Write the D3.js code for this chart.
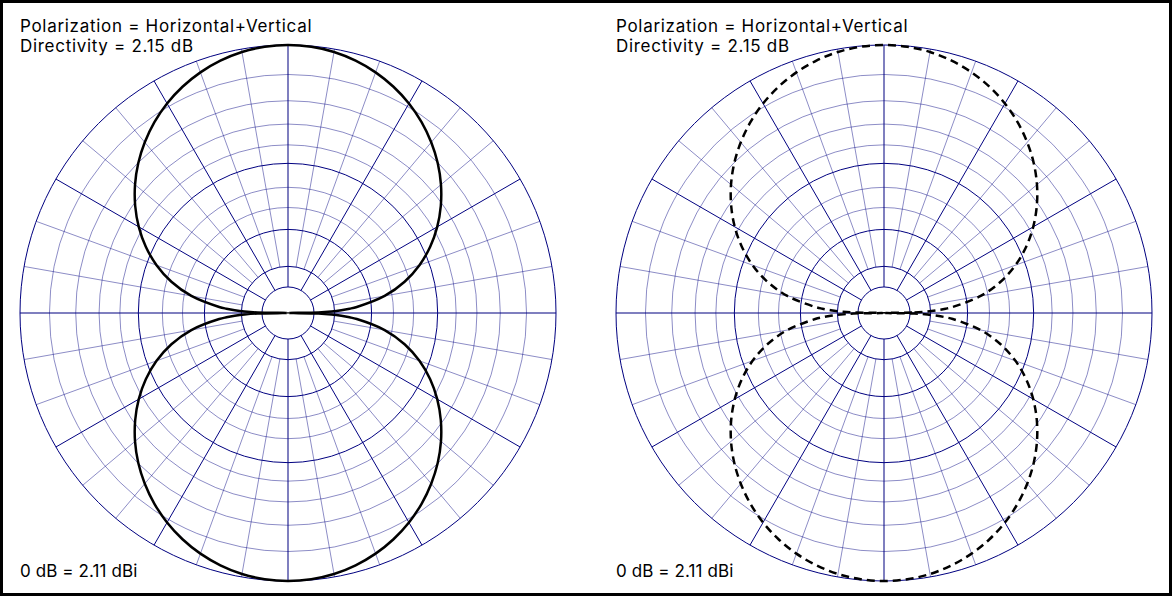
<!DOCTYPE html>
<html>
<head>
<meta charset="utf-8">
<script src="https://d3js.org/d3.v7.min.js"></script>
<style>
body { margin: 0; background: #fff; }
text { font-family: Inter, "Liberation Sans", sans-serif; font-size: 17px; fill: #000; }
</style>
</head>
<body>
<div id="antenna"></div>
<script>
const w = 1172;
const h = 596;
const R = 268;

// two panels, same pattern : solid on the left, dashed on the right
const panels = [
	{ cx: 288, cy: 313, dash: null },
	{ cx: 884, cy: 313, dash: "8,5" }
];

// far field pattern : angle in degrees (0 = right, counter clockwise), gain in dB
const angles = [0, 1, 2, 3, 4, 5, 10, 15, 20, 25, 30, 35, 40, 45, 50, 55, 60, 65, 70, 75, 80, 85,
	90, 95, 100, 105, 110, 115, 120, 125, 130, 135, 140, 145, 150, 155, 160, 165, 170, 175, 176, 177, 178, 179,
	180, 181, 182, 183, 184, 185, 190, 195, 200, 205, 210, 215, 220, 225, 230, 235, 240, 245, 250, 255, 260, 265,
	270, 275, 280, 285, 290, 295, 300, 305, 310, 315, 320, 325, 330, 335, 340, 345, 350, 355, 356, 357, 358, 359];
const gainDb = [-99, -37.3, -31.2, -27.7, -25.2, -23.27, -17.24, -13.69, -11.16, -9.19, -7.58, -6.22, -5.05, -4.04, -3.17, -2.41, -1.76, -1.22, -0.78, -0.44, -0.19, -0.05,
	0, -0.05, -0.19, -0.44, -0.78, -1.22, -1.76, -2.41, -3.17, -4.04, -5.05, -6.22, -7.58, -9.19, -11.16, -13.69, -17.24, -23.27, -25.2, -27.7, -31.2, -37.3,
	-99, -37.3, -31.2, -27.7, -25.2, -23.27, -17.24, -13.69, -11.16, -9.19, -7.58, -6.22, -5.05, -4.04, -3.17, -2.41, -1.76, -1.22, -0.78, -0.44, -0.19, -0.05,
	0, -0.05, -0.19, -0.44, -0.78, -1.22, -1.76, -2.41, -3.17, -4.04, -5.05, -6.22, -7.58, -9.19, -11.16, -13.69, -17.24, -23.27, -25.2, -27.7, -31.2, -37.3];

// ARRL log periodic grid
const ringLevels = [0, -2, -4, -6, -8, -10, -13, -16, -20, -30, -40];
const majorRings = [0, -10, -20, -30, -40];
const spokeAngles = d3.range(0, 360, 10);

const titleLines = ["Polarization = Horizontal+Vertical", "Directivity = 2.15 dB"];
const footerText = "0 dB = 2.11 dBi";

const navy = "#000080";

let dataset = angles.map((a, i) => ({ angle: a, gain: gainDb[i] }));

// radius : 0.89 per 2 dB
var logR = d3.scaleLinear()
	.domain([-40, 0])
	.range([Math.log(R * Math.pow(0.89, 20)), Math.log(R)]);
function rScale(db) { return Math.exp(logR(db)); }

var svg = d3.select("#antenna")
	.append("svg")
		.attr("width", w)
		.attr("height", h);

svg.append("rect")
	.attr("x", 1.5)
	.attr("y", 1.5)
	.attr("width", w - 3)
	.attr("height", h - 3)
	.attr("fill", "white")
	.attr("stroke", "black")
	.attr("stroke-width", 3);

panels.forEach((p) => draw_panel(p));

function draw_panel(p) {
	var g = svg.append("g")
		.attr("transform", "translate(" + p.cx + "," + p.cy + ")");

	// spokes
	g.selectAll(".spoke")
		.data(spokeAngles)
		.enter()
		.append("line")
			.attr("class", "spoke")
			.attr("x1", (a) => inner(a) * Math.cos(a * Math.PI / 180))
			.attr("y1", (a) => -inner(a) * Math.sin(a * Math.PI / 180))
			.attr("x2", (a) => R * Math.cos(a * Math.PI / 180))
			.attr("y2", (a) => -R * Math.sin(a * Math.PI / 180))
			.attr("stroke", navy)
			.attr("stroke-opacity", (a) => a % 90 == 0 ? 0.5 : (a % 30 == 0 ? 1 : 0.45))
			.attr("stroke-width", (a) => a % 90 == 0 ? 2 : 1);

	// rings
	g.selectAll(".ring")
		.data(ringLevels)
		.enter()
		.append("circle")
			.attr("class", "ring")
			.attr("r", (d) => rScale(d))
			.attr("fill", "none")
			.attr("stroke", navy)
			.attr("stroke-opacity", (d) => majorRings.includes(d) ? 1 : 0.45)
			.attr("stroke-width", 1);

	// pattern
	var line = d3.lineRadial()
		.angle((d) => (90 - d.angle) * Math.PI / 180)
		.radius((d) => rScale(d.gain))
		.curve(d3.curveCatmullRomClosed.alpha(0.5));

	g.append("path")
		.datum(dataset)
		.attr("d", line)
		.attr("fill", "none")
		.attr("stroke", "black")
		.attr("stroke-width", 2.5)
		.attr("stroke-dasharray", p.dash);

	// texts
	svg.selectAll(null)
		.data(titleLines)
		.enter()
		.append("text")
			.attr("x", p.cx - R)
			.attr("y", (d, i) => 32 + i * 20)
			.attr("letter-spacing", "0.7px")
			.text((d) => d);

	svg.append("text")
		.attr("x", p.cx - R)
		.attr("y", 577)
		.attr("letter-spacing", "0.1px")
		.text(footerText);
}

function inner(a) {
	if (a % 30 == 0) return rScale(-40);
	return rScale(-30);
}
</script>
</body>
</html>
